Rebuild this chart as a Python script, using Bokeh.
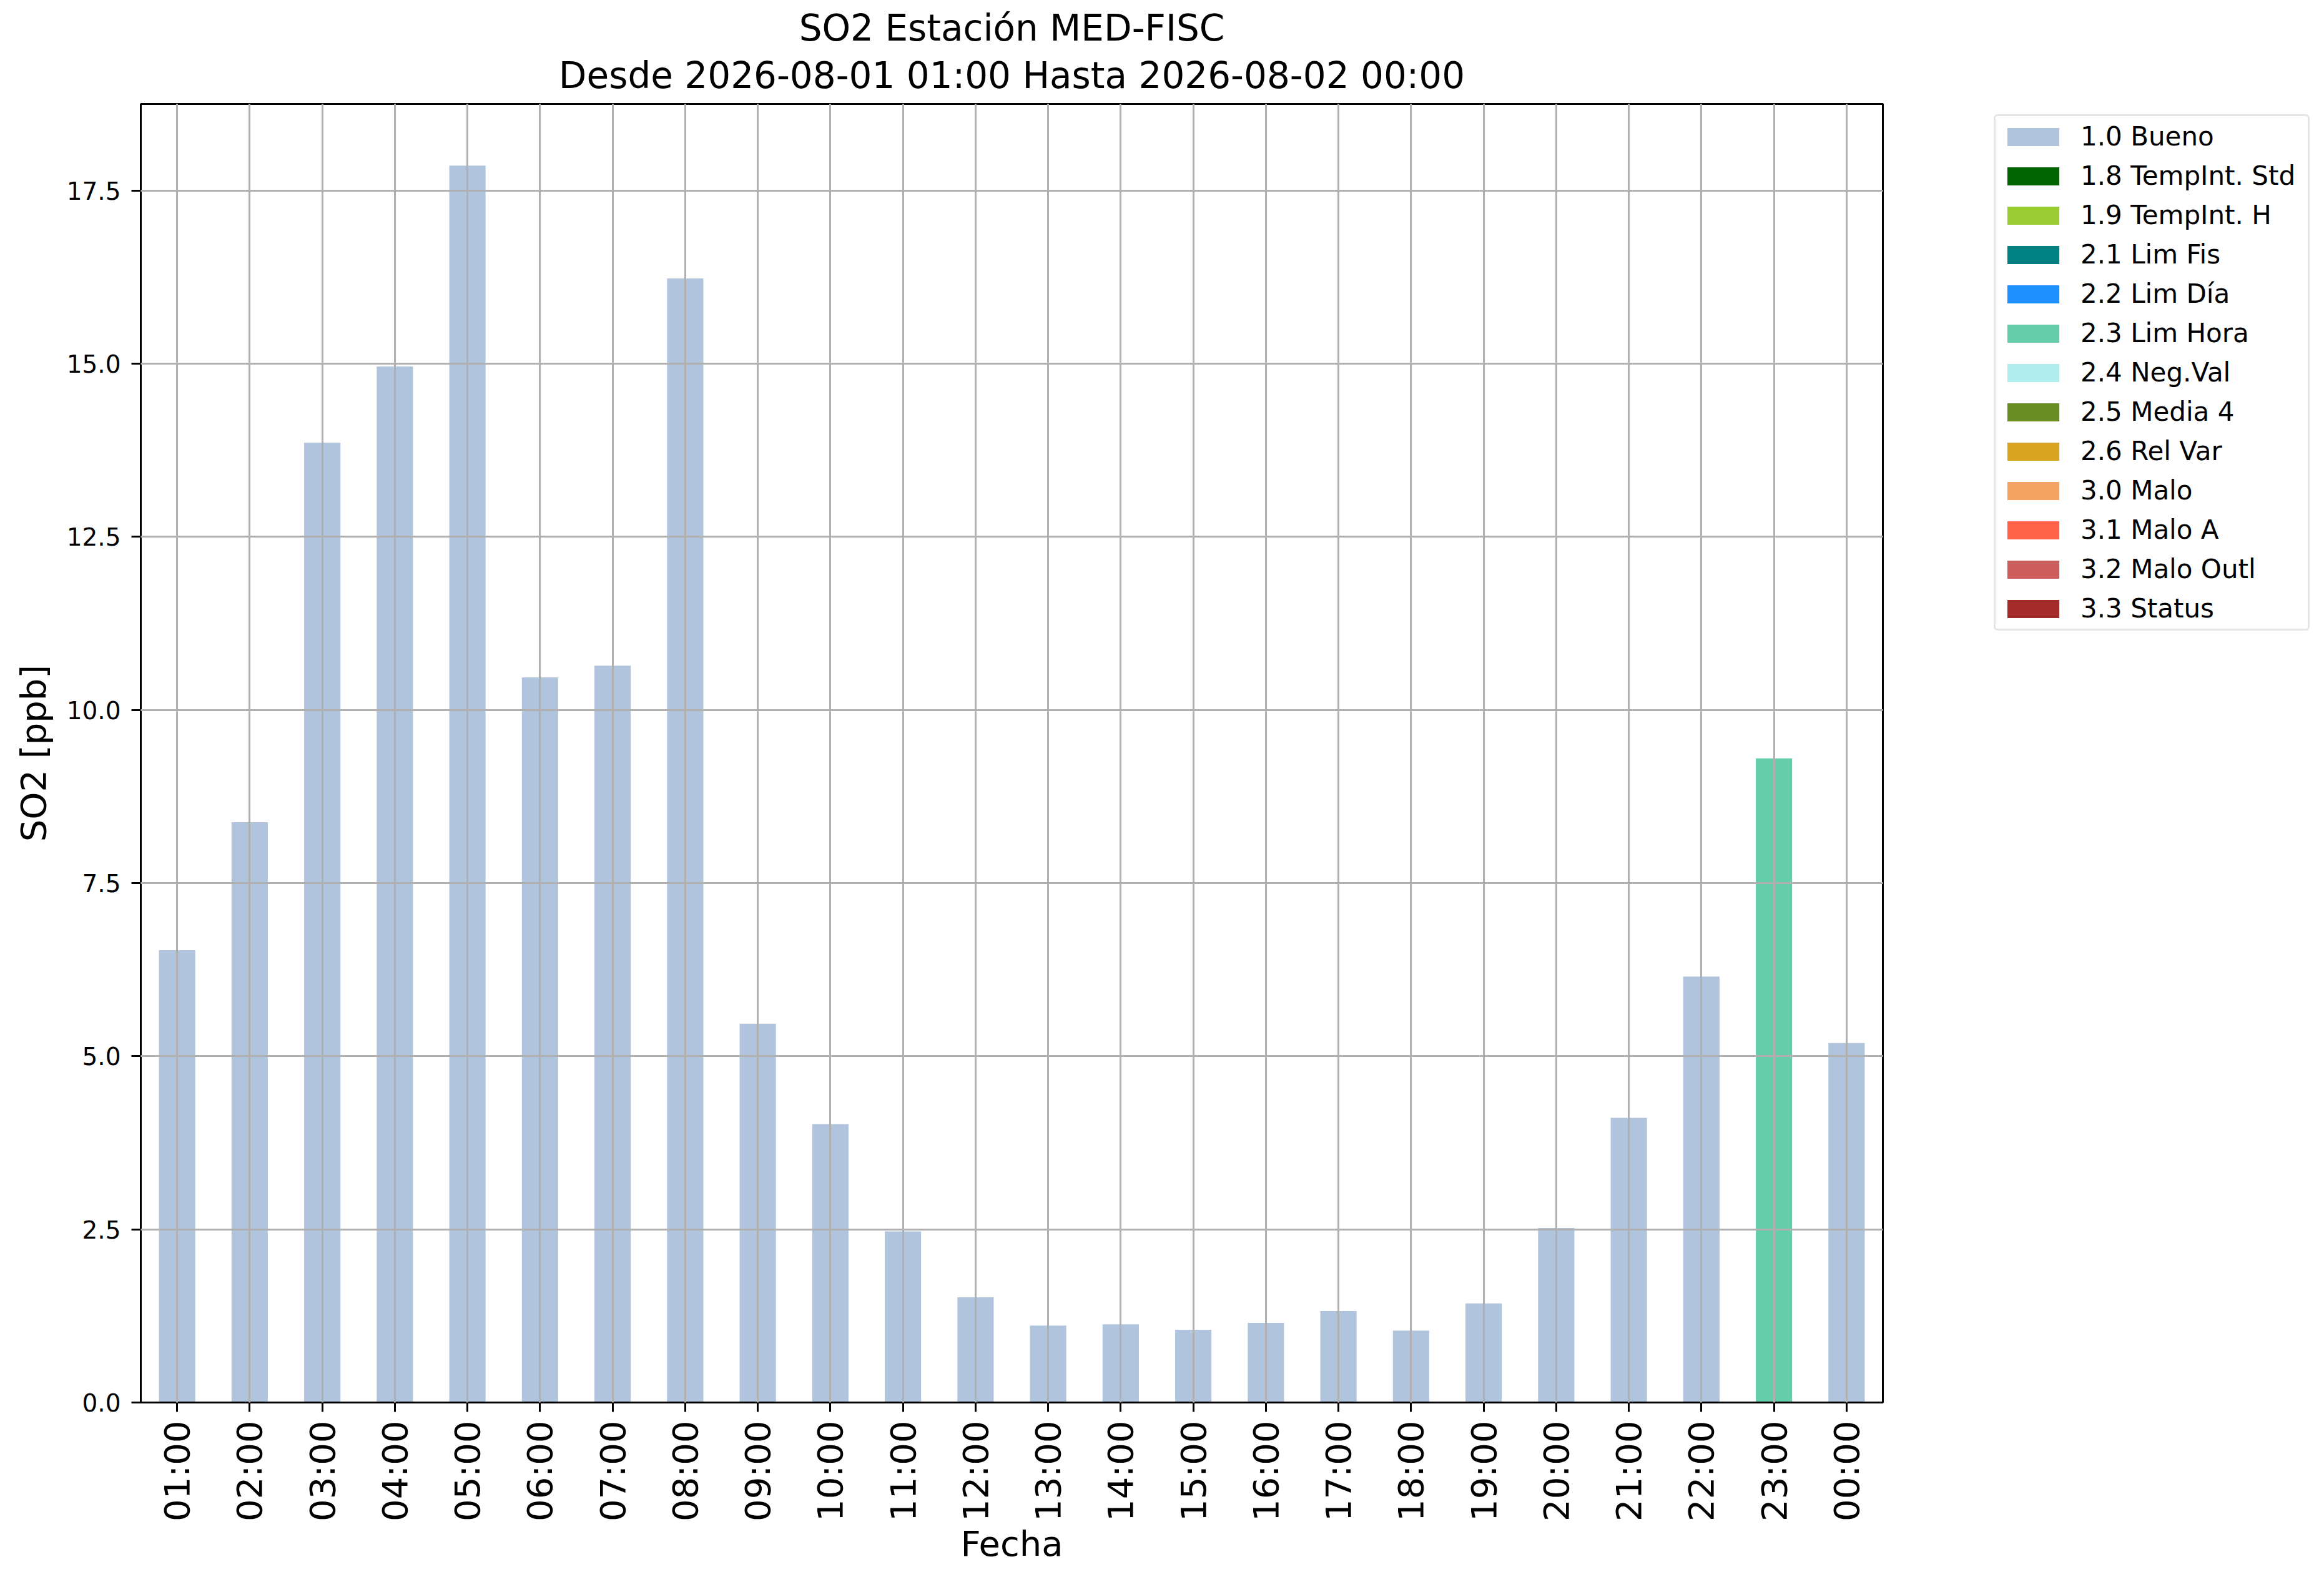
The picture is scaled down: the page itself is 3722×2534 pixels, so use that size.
import math
from bokeh.plotting import figure
from bokeh.layouts import row
from bokeh.models import (ColumnDataSource, FactorRange, Range1d, Legend, LegendItem,
                          SingleIntervalTicker, PrintfTickFormatter, Title,
                          CDSView, GroupFilter)
from bokeh.embed import file_html
from bokeh.resources import INLINE

# ---------------- data ----------------
hours = ["01:00", "02:00", "03:00", "04:00", "05:00", "06:00", "07:00", "08:00",
         "09:00", "10:00", "11:00", "12:00", "13:00", "14:00", "15:00", "16:00",
         "17:00", "18:00", "19:00", "20:00", "21:00", "22:00", "23:00", "00:00"]
so2_ppb = [6.53, 8.38, 13.86, 14.96, 17.86, 10.47, 10.64, 16.23,
           5.47, 4.02, 2.47, 1.52, 1.11, 1.13, 1.05, 1.15,
           1.32, 1.04, 1.43, 2.52, 4.11, 6.15, 9.30, 5.19]
flag_of_hour = ["1.0", "1.0", "1.0", "1.0", "1.0", "1.0", "1.0", "1.0",
                "1.0", "1.0", "1.0", "1.0", "1.0", "1.0", "1.0", "1.0",
                "1.0", "1.0", "1.0", "1.0", "1.0", "1.0", "2.3", "1.0"]

flag_codes = ["1.0", "1.8", "1.9", "2.1", "2.2", "2.3", "2.4", "2.5", "2.6",
              "3.0", "3.1", "3.2", "3.3"]
flag_labels = ["1.0 Bueno", "1.8 TempInt. Std", "1.9 TempInt. H", "2.1 Lim Fis",
               "2.2 Lim Día", "2.3 Lim Hora", "2.4 Neg.Val", "2.5 Media 4",
               "2.6 Rel Var", "3.0 Malo", "3.1 Malo A", "3.2 Malo Outl", "3.3 Status"]
flag_colors = ["#B0C4DE", "#006400", "#9ACD32", "#008080", "#1E90FF", "#66CDAA",
               "#AFEEEE", "#6B8E23", "#DAA520", "#F4A460", "#FF6347", "#CD5C5C",
               "#A52A2A"]

title_line1 = "SO2 Estación MED-FISC"
title_line2 = "Desde 2026-08-01 01:00 Hasta 2026-08-02 00:00"
x_label = "Fecha"
y_label = "SO2 [ppb]"

FONT = "DejaVu Sans"

# ---------------- layout sizes ----------------
W, H = 3706, 2518
W_MAIN = 3020
W_LEG = W - W_MAIN
B_TOP, B_BOTTOM = 166, 272

src = ColumnDataSource(data=dict(x=hours, top=so2_ppb, flag=flag_of_hour))

# ---------------- main figure ----------------
p = figure(width=W_MAIN, height=H, x_range=FactorRange(*hours, range_padding=0),
           y_range=Range1d(0, 18.75), output_backend="svg", toolbar_location=None,
           title=None, min_border_left=225, min_border_right=5,
           min_border_top=B_TOP, min_border_bottom=B_BOTTOM)
p.background_fill_color = "white"
p.border_fill_color = "white"
p.outline_line_color = "black"
p.outline_line_width = 3

# titles (line 2 added first -> closest to the frame)
t2 = Title(text=title_line2, align="center", text_font=FONT, text_font_size="58px",
           text_font_style="normal", text_color="black", standoff=24)
t1 = Title(text=title_line1, align="center", text_font=FONT, text_font_size="58px",
           text_font_style="normal", text_color="black", standoff=0)
try:
    t1.standoff = -13
except Exception:
    pass
p.add_layout(t2, "above")
p.add_layout(t1, "above")

# bars: one shared source, one filtered renderer per quality flag
for code, col in zip(flag_codes, flag_colors):
    view = CDSView(filter=GroupFilter(column_name="flag", group=code))
    p.vbar(x="x", top="top", width=0.5, bottom=0, source=src, view=view,
           fill_color=col, line_color=None)

# grid on top of bars
for g in (p.xgrid, p.ygrid):
    g.grid_line_color = "#b0b0b0"
    g.grid_line_width = 3
    g.level = "overlay"

# axes
p.yaxis.ticker = SingleIntervalTicker(interval=2.5, num_minor_ticks=0)
p.yaxis.formatter = PrintfTickFormatter(format="%.1f")
for ax in (p.xaxis[0], p.yaxis[0]):
    ax.axis_line_color = "black"
    ax.axis_line_width = 3
    ax.major_tick_line_color = "black"
    ax.major_tick_line_width = 3
    ax.major_tick_in = 0
    ax.major_tick_out = 15
    ax.minor_tick_line_color = None
    ax.major_label_text_font = FONT
    ax.major_label_text_color = "black"
    ax.axis_label_text_font = FONT
    ax.axis_label_text_font_style = "normal"
    ax.axis_label_text_font_size = "56px"
    ax.axis_label_text_color = "black"

p.xaxis.major_label_orientation = math.pi / 2
p.xaxis.major_label_text_font_size = "56px"
p.xaxis.major_label_standoff = 14
p.xaxis.axis_label = x_label
p.xaxis.axis_label_standoff = 0

p.yaxis.major_label_text_font_size = "39px"
p.yaxis.major_label_standoff = 17
p.yaxis.axis_label = y_label
p.yaxis.axis_label_standoff = 18

# ---------------- legend panel (separate figure on the right) ----------------
pl = figure(width=W_LEG, height=H, x_range=FactorRange(*hours),
            y_range=Range1d(-1001, -1000), x_axis_type=None, y_axis_type=None,
            output_backend="svg", toolbar_location=None, title=None,
            min_border_left=0, min_border_right=0, min_border_top=B_TOP,
            min_border_bottom=B_BOTTOM)
pl.outline_line_color = None
pl.outline_line_alpha = 0
pl.background_fill_color = "white"
pl.border_fill_color = "white"

items = []
for lab, col in zip(flag_labels, flag_colors):
    # proxy renderers (outside the visible y range) used only for legend swatches
    r = pl.vbar(x="x", top="top", width=0, bottom=0, source=src,
                fill_color=col, line_color=None)
    items.append(LegendItem(label=lab, renderers=[r]))

legend = Legend(items=items, location=(173, 1236), orientation="vertical",
                label_text_font=FONT, label_text_font_size="42px",
                label_text_color="black", glyph_width=104, glyph_height=36,
                label_standoff=24, label_width=356, padding=8, spacing=14,
                margin=0, border_line_color="#cccccc", border_line_width=3,
                background_fill_color="white", background_fill_alpha=1.0)
if "border_radius" in Legend.properties():
    legend.border_radius = 6
pl.add_layout(legend, "center")

layout = row(p, pl)
open("out.html", "w").write(file_html(layout, INLINE))
